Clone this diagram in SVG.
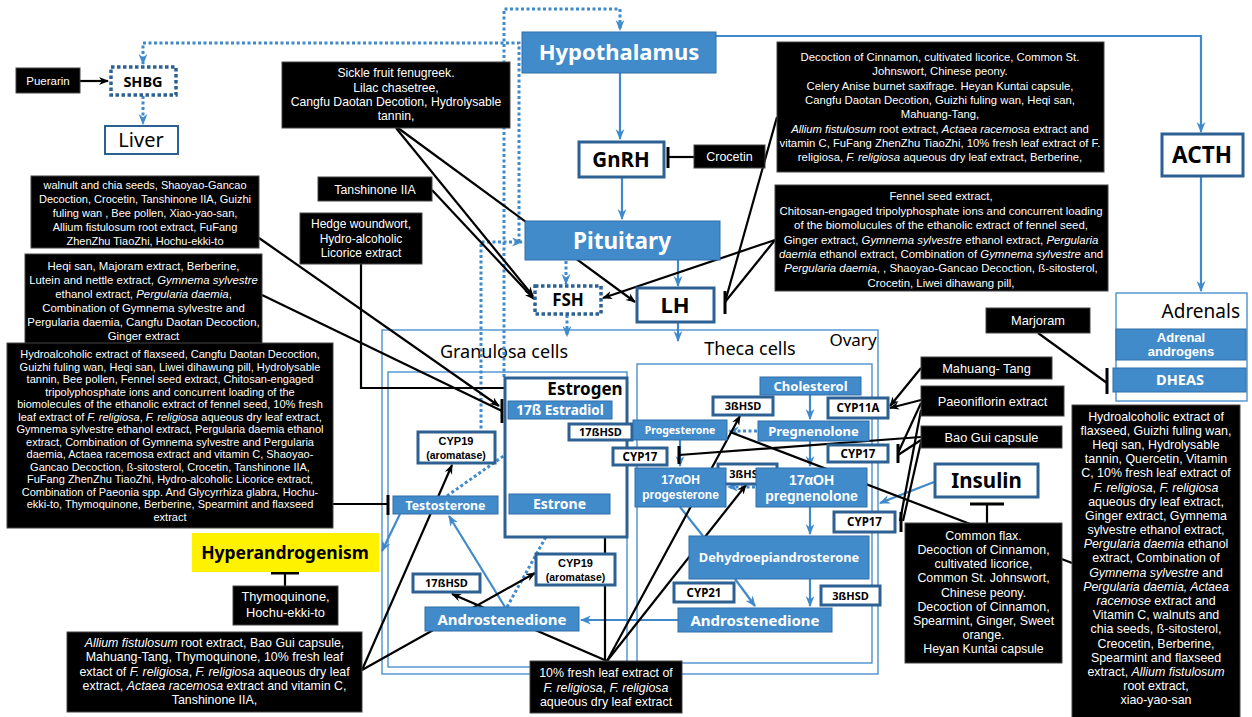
<svg xmlns="http://www.w3.org/2000/svg" width="1252" height="717" viewBox="0 0 1252 717">
<style>
text{font-family:"Noto Sans","Open Sans","Liberation Sans",sans-serif}
.bb{fill:#000;stroke:#444;stroke-width:1}
.bt{fill:#fff;text-anchor:middle;font-family:"Liberation Sans",Arial,sans-serif}
.i{font-style:italic}
.bn{fill:#428BCA;stroke:#2F6EA8;stroke-width:1}
.wt{fill:#fff;font-weight:bold;text-anchor:middle}
.wl{fill:#fff;font-weight:bold;text-anchor:middle;font-family:"Liberation Sans",Arial,sans-serif}
.ob{fill:#fff;stroke:#2E6193;stroke-width:3}
.obd{fill:#fff;stroke:#2E6193;stroke-width:3.5;stroke-dasharray:3.5 2.5}
.kt{fill:#000;font-weight:bold;text-anchor:middle}
.kl{fill:#000;font-weight:bold;text-anchor:middle;font-family:"Liberation Sans",Arial,sans-serif}
.thin{fill:none;stroke:#3F88CB;stroke-width:1.3}
.bl{stroke:#000;stroke-width:2.2;fill:none}
.bar{stroke:#000;stroke-width:3;fill:none}
.blu{stroke:#3F8ACB;stroke-width:2.2;fill:none}
.dot{stroke:#3F8ACB;stroke-width:3;fill:none;stroke-dasharray:3 2.5}
</style>
<defs>
<marker id="ak" viewBox="0 0 10 10" refX="9" refY="5" markerWidth="10" markerHeight="10" markerUnits="userSpaceOnUse" orient="auto-start-reverse"><path d="M0,1 L10,5 L0,9 L3,5 z" fill="#000"/></marker>
<marker id="ab" viewBox="0 0 10 10" refX="9" refY="5" markerWidth="11" markerHeight="11" markerUnits="userSpaceOnUse" orient="auto-start-reverse"><path d="M0,1 L10,5 L0,9 L3,5 z" fill="#3F8ACB"/></marker>
</defs>
<rect width="1252" height="717" fill="#fff"/>

<!-- containers -->
<g id="ovary"><rect class="thin" x="382" y="330" width="496" height="344"/><text x="853" y="346" font-size="17" text-anchor="middle">Ovary</text></g>
<g id="granulosa"><rect class="thin" x="388" y="372" width="239" height="295"/><text x="504" y="358" font-size="18" text-anchor="middle">Granulosa cells</text></g>
<g id="theca"><rect class="thin" x="637" y="364" width="235" height="299"/><text x="750" y="355" font-size="18" text-anchor="middle">Theca cells</text></g>
<g id="adrenals"><rect class="thin" x="1116" y="293" width="131" height="108"/><text x="1240" y="318" font-size="19" text-anchor="end">Adrenals</text></g>

<!-- connectors -->
<g id="connectors">
<path class="blu" d="M620,73V139" marker-end="url(#ab)"/>
<path class="blu" d="M622,177V219" marker-end="url(#ab)"/>
<path class="blu" d="M678,260V286" marker-end="url(#ab)"/>
<path class="blu" d="M678,322V341" marker-end="url(#ab)"/>
<path class="blu" d="M716,36H1201V132" marker-end="url(#ab)"/>
<path class="blu" d="M1201,176V291" marker-end="url(#ab)"/>
<path class="blu" d="M810,395V419" marker-end="url(#ab)"/>
<path class="blu" d="M810,441V466" marker-end="url(#ab)"/>
<path class="blu" d="M810,507V534" marker-end="url(#ab)"/>
<path class="blu" d="M810,579V606" marker-end="url(#ab)"/>
<path class="blu" d="M735,579L755,606" marker-end="url(#ab)"/>
<path class="blu" d="M680,507L703,536"/>
<path class="blu" d="M680,440V466" marker-end="url(#ab)"/>
<path class="blu" d="M678,620H581" marker-end="url(#ab)"/>
<path class="blu" d="M505,607L449,516" marker-end="url(#ab)"/>
<path class="blu" d="M558,420V493" marker-start="url(#ab)" marker-end="url(#ab)"/>
<path class="blu" d="M400,514L382,551" marker-end="url(#ab)"/>
<path class="blu" d="M934,482L880,503" marker-end="url(#ab)"/>

<path class="dot" d="M757,431H729" marker-end="url(#ab)"/>
<path class="dot" d="M755,487H728" marker-end="url(#ab)"/>
<path class="dot" d="M447,496L553,421" marker-end="url(#ab)"/>
<path class="dot" d="M507,607L557,517" marker-end="url(#ab)"/>
<path class="dot" d="M566,261V284" marker-end="url(#ab)"/>
<path class="dot" d="M567,315V336" marker-end="url(#ab)"/>
<path class="dot" d="M143,96V124" marker-end="url(#ab)"/>
<path class="dot" d="M481,456V242H522" marker-end="url(#ab)"/>
<path class="dot" d="M504,377V9H620V30" marker-end="url(#ab)"/>
<path class="dot" d="M519,242V43H143V64" marker-end="url(#ab)"/>

<path class="bl" d="M80,81H108" marker-end="url(#ak)"/>
<path class="bl" d="M694,157H668"/><path class="bar" d="M668,147V168"/>
<path class="bl" d="M396,128L533,296" marker-end="url(#ak)"/>
<path class="bl" d="M398,128L635,302" marker-end="url(#ak)"/>
<path class="bl" d="M432,190L534,299" marker-end="url(#ak)"/>
<path class="bl" d="M775,240L603,298" marker-end="url(#ak)"/>
<path class="bl" d="M775,240L725,302"/>
<path class="bl" d="M777,117L725,302"/><path class="bar" d="M725,291V314"/>
<path class="bl" d="M259,238L499,406" marker-end="url(#ak)"/>
<path class="bl" d="M262,295L502,411"/><path class="bar" d="M502,399V423"/>
<path class="bl" d="M361,264V388H537"/><path class="bar" d="M537,380V398"/>
<path class="bl" d="M333,504H388"/><path class="bar" d="M388,495V515"/>
<path class="bl" d="M285,586V573"/><path class="bar" d="M271,573H299"/>
<path class="bl" d="M362,670L452,465" marker-end="url(#ak)"/>
<path class="bl" d="M362,670L535,573" marker-end="url(#ak)"/>
<path class="bl" d="M605,661V441" marker-end="url(#ak)"/>
<path class="bl" d="M607,661L452,594" marker-end="url(#ak)"/>
<path class="bl" d="M607,661L740,416" marker-end="url(#ak)"/>
<path class="bl" d="M607,661L746,485" marker-end="url(#ak)"/>
<path class="bl" d="M921,368L890,406" marker-end="url(#ak)"/>
<path class="bl" d="M921,400L890,408" marker-end="url(#ak)"/>
<path class="bl" d="M921,403L898,453"/><path class="bl" d="M921,440L898,455"/><path class="bar" d="M898,444V463"/>
<path class="bl" d="M921,437L679,455"/><path class="bar" d="M679,446V464"/>
<path class="bl" d="M921,410L900,521"/><path class="bl" d="M921,442L903,521"/><path class="bar" d="M901,512V532"/>
<path class="bl" d="M1072,563L730,432"/>
<path class="bl" d="M987,523V504"/><path class="bar" d="M970,504H1004"/>
<path class="bl" d="M1038,333L1107,383"/><path class="bar" d="M1107,368V394"/>
</g>

<!-- hormone nodes -->
<g id="hypothalamus"><rect class="bn" x="522" y="32" width="194" height="41"/><text class="wt" x="619" y="60" font-size="22">Hypothalamus</text></g>
<g id="gnrh"><rect class="ob" x="579" y="142" width="85" height="35"/><text class="kt" x="621" y="167" font-size="20.5">GnRH</text></g>
<g id="pituitary"><rect class="bn" x="525" y="221" width="195" height="39"/><text class="wt" x="622" y="248.5" font-size="22.5">Pituitary</text></g>
<g id="fsh"><rect class="obd" x="535" y="286" width="66" height="28"/><text class="kt" x="568" y="306" font-size="17">FSH</text></g>
<g id="lh"><rect class="ob" x="637" y="288" width="77" height="34"/><text class="kt" x="675" y="313" font-size="22">LH</text></g>
<g id="acth"><rect class="ob" x="1162" y="134" width="81" height="42"/><text class="kt" x="1202" y="163" font-size="22.5">ACTH</text></g>
<g id="shbg"><rect class="obd" x="111" y="67" width="65" height="28"/><text class="kt" x="143" y="86.5" font-size="14.5">SHBG</text></g>
<g id="liver"><rect fill="#fff" stroke="#2E6193" stroke-width="2" x="105" y="126" width="73" height="28"/><text x="141" y="147" font-size="20" text-anchor="middle">Liver</text></g>
<g id="adrenal-androgens"><rect class="bn" x="1116" y="329" width="130" height="31"/><text class="wl" font-size="13"><tspan x="1181" y="341.5">Adrenal</tspan><tspan x="1181" y="355.5">androgens</tspan></text></g>
<g id="dheas"><rect class="bn" x="1113" y="368" width="133" height="24"/><text class="wt" x="1180" y="385" font-size="14.5">DHEAS</text></g>

<g id="estrogen"><rect class="ob" fill="none" x="505" y="378" width="122" height="159"/><text class="kt" x="585" y="395" font-size="17">Estrogen</text></g>
<g id="estradiol"><rect class="bn" x="508" y="401" width="104" height="18"/><text class="wt" x="560" y="415" font-size="13.5">17ß Estradiol</text></g>
<g id="estrone"><rect class="bn" x="509" y="494" width="101" height="20"/><text class="wt" x="559.5" y="509" font-size="14">Estrone</text></g>
<g id="hsd17-up"><rect class="ob" x="569" y="424" width="63" height="16"/><text class="kt" x="600.5" y="436" font-size="11">17ßHSD</text></g>
<g id="cyp19-up"><rect class="ob" x="418" y="432" width="77" height="31"/><text class="kl" font-size="11"><tspan x="456" y="445">CYP19</tspan><tspan x="456" y="458.5" font-size="10.5">(aromatase)</tspan></text></g>
<g id="testosterone"><rect class="bn" x="393" y="496" width="105" height="18"/><text class="wt" x="445.5" y="509.5" font-size="12.3">Testosterone</text></g>
<g id="hsd17-low"><rect class="ob" x="413" y="574" width="67" height="18"/><text class="kt" x="446.5" y="587" font-size="11">17ßHSD</text></g>
<g id="cyp19-low"><rect class="ob" x="536" y="554" width="79" height="31"/><text class="kl" font-size="11"><tspan x="575.5" y="567">CYP19</tspan><tspan x="575.5" y="580.5" font-size="10.5">(aromatase)</tspan></text></g>
<g id="andro-gran"><rect class="bn" x="425" y="607" width="154" height="24"/><text class="wt" x="502" y="624.5" font-size="15">Androstenedione</text></g>

<g id="cholesterol"><rect class="bn" x="760" y="377" width="101" height="18"/><text class="wt" x="810.5" y="390.5" font-size="13">Cholesterol</text></g>
<g id="hsd3-up"><rect class="ob" x="713" y="397" width="60" height="18"/><text class="kt" x="743" y="410" font-size="11">3ßHSD</text></g>
<g id="cyp11a"><rect class="ob" x="828" y="398" width="60" height="20"/><text class="kt" x="858" y="412" font-size="11.5">CYP11A</text></g>
<g id="progesterone"><rect class="bn" x="633" y="420" width="94" height="20"/><text class="wt" x="680" y="433.5" font-size="10.5">Progesterone</text></g>
<g id="pregnenolone"><rect class="bn" x="758" y="421" width="111" height="20"/><text class="wt" x="813.5" y="435.5" font-size="13">Pregnenolone</text></g>
<g id="cyp17-left"><rect class="ob" x="613" y="448" width="54" height="17"/><text class="kt" x="640" y="460.5" font-size="11.5">CYP17</text></g>
<g id="cyp17-right"><rect class="ob" x="828" y="445" width="60" height="17"/><text class="kt" x="858" y="457.5" font-size="11.5">CYP17</text></g>
<g id="hsd3-mid"><rect class="ob" x="718" y="464" width="59" height="20"/><text class="kt" x="747.5" y="478" font-size="11">3ßHSD</text></g>
<g id="ohprog"><rect class="bn" x="635" y="468" width="91" height="39"/><text class="wl" font-size="12"><tspan x="680.5" y="484">17αOH</tspan><tspan x="680.5" y="499">progesterone</tspan></text></g>
<g id="ohpreg"><rect class="bn" x="756" y="468" width="111" height="39"/><text class="wl" font-size="14"><tspan x="811.5" y="485">17αOH</tspan><tspan x="811.5" y="501">pregnenolone</tspan></text></g>
<g id="cyp17-low"><rect class="ob" x="834" y="512" width="61" height="20"/><text class="kt" x="864.5" y="526" font-size="11.5">CYP17</text></g>
<g id="dhea"><rect class="bn" x="689" y="536" width="180" height="43"/><text class="wt" x="779" y="562" font-size="12.8">Dehydroepiandrosterone</text></g>
<g id="cyp21"><rect class="ob" x="674" y="583" width="60" height="19"/><text class="kt" x="704" y="596.5" font-size="11.5">CYP21</text></g>
<g id="hsd3-low"><rect class="ob" x="821" y="586" width="59" height="19"/><text class="kt" x="850.5" y="599.5" font-size="11">3ßHSD</text></g>
<g id="andro-theca"><rect class="bn" x="678" y="608" width="154" height="24"/><text class="wt" x="755" y="625.5" font-size="15">Androstenedione</text></g>

<g id="hyperandrogenism"><rect fill="#FFF200" x="192" y="533" width="187" height="39"/><text class="kt" x="285" y="558.5" font-size="17.5">Hyperandrogenism</text></g>
<g id="insulin"><rect class="ob" x="935" y="464" width="103" height="33"/><text class="kt" x="986.5" y="487.5" font-size="20.5">Insulin</text></g>

<!-- black agent boxes -->
<g id="puerarin"><rect class="bb" x="16" y="68" width="64" height="25"/><text class="bt" x="48" y="84.5" font-size="11.5">Puerarin</text></g>
<g id="fenugreek"><rect class="bb" x="282" y="62" width="228" height="66"/><text class="bt" font-size="12.2"><tspan x="396" y="77">Sickle fruit fenugreek.</tspan><tspan x="396" y="92">Lilac chasetree,</tspan><tspan x="396" y="106">Cangfu Daotan Decotion, Hydrolysable</tspan><tspan x="396" y="120">tannin,</tspan></text></g>
<g id="crocetin"><rect class="bb" x="694" y="145" width="71" height="23"/><text class="bt" x="729.5" y="161" font-size="12.5">Crocetin</text></g>
<g id="decoction"><rect class="bb" x="777" y="42" width="327" height="130"/><text class="bt" font-size="11.3"><tspan x="940" y="61">Decoction of Cinnamon, cultivated licorice, Common St.</tspan><tspan x="940" y="75">Johnswort, Chinese peony.</tspan><tspan x="940" y="90">Celery Anise burnet saxifrage. Heyan Kuntai capsule,</tspan><tspan x="940" y="104">Cangfu Daotan Decotion, Guizhi fuling wan, Heqi san,</tspan><tspan x="940" y="118">Mahuang-Tang,</tspan><tspan x="940" y="133"><tspan class="i">Allium fistulosum</tspan> root extract, <tspan class="i">Actaea racemosa</tspan> extract and</tspan><tspan x="940" y="147">vitamin C, FuFang ZhenZhu TiaoZhi, 10% fresh leaf extract of F.</tspan><tspan x="940" y="161">religiosa, <tspan class="i">F. religiosa</tspan> aqueous dry leaf extract, Berberine,</tspan></text></g>
<g id="fennel"><rect class="bb" x="775" y="185" width="333" height="106"/><text class="bt" font-size="11.4"><tspan x="941" y="200">Fennel seed extract,</tspan><tspan x="941" y="215">Chitosan-engaged tripolyphosphate ions and concurrent loading</tspan><tspan x="941" y="229">of the biomolucules of the ethanolic extract of fennel seed,</tspan><tspan x="941" y="244">Ginger extract, <tspan class="i">Gymnema sylvestre</tspan> ethanol extract, <tspan class="i">Pergularia</tspan></tspan><tspan x="941" y="258"><tspan class="i">daemia</tspan> ethanol extract, Combination of <tspan class="i">Gymnema sylvestre</tspan> and</tspan><tspan x="941" y="272"><tspan class="i">Pergularia daemia</tspan>, , Shaoyao-Gancao Decoction, ß-sitosterol,</tspan><tspan x="941" y="287">Crocetin, Liwei dihawang pill,</tspan></text></g>
<g id="walnut"><rect class="bb" x="31" y="176" width="228" height="72"/><text class="bt" font-size="11"><tspan x="145" y="189">walnult and chia seeds, Shaoyao-Gancao</tspan><tspan x="145" y="203">Decoction, Crocetin, Tanshinone IIA, Guizhi</tspan><tspan x="145" y="216.5">fuling wan , Bee pollen,  Xiao-yao-san,</tspan><tspan x="145" y="230.5">Allium fistulosum root extract, FuFang</tspan><tspan x="145" y="244.5">ZhenZhu TiaoZhi, Hochu-ekki-to</tspan></text></g>
<g id="tanshinone"><rect class="bb" x="318" y="177" width="114" height="24"/><text class="bt" x="375" y="193.5" font-size="12.3">Tanshinone IIA</text></g>
<g id="hedge"><rect class="bb" x="300" y="213" width="122" height="51"/><text class="bt" font-size="12"><tspan x="361" y="228">Hedge woundwort,</tspan><tspan x="361" y="243">Hydro-alcoholic</tspan><tspan x="361" y="257">Licorice extract</tspan></text></g>
<g id="heqi"><rect class="bb" x="25" y="254" width="237" height="91"/><text class="bt" font-size="11.4"><tspan x="143.5" y="270">Heqi san, Majoram extract, Berberine,</tspan><tspan x="143.5" y="284">Lutein and nettle extract, <tspan class="i">Gymnema sylvestre</tspan></tspan><tspan x="143.5" y="298">ethanol extract, <tspan class="i">Pergularia daemia</tspan>,</tspan><tspan x="143.5" y="312">Combination of Gymnema sylvestre and</tspan><tspan x="143.5" y="326">Pergularia daemia, Cangfu Daotan Decoction,</tspan><tspan x="143.5" y="340">Ginger extract</tspan></text></g>
<g id="flaxseed"><rect class="bb" x="7" y="343" width="326" height="185"/><text class="bt" font-size="11"><tspan x="170" y="358">Hydroalcoholic extract of flaxseed, Cangfu Daotan Decoction,</tspan><tspan x="170" y="370.5">Guizhi fuling wan, Heqi san, Liwei dihawung pill, Hydrolysable</tspan><tspan x="170" y="383">tannin, Bee pollen, Fennel seed extract, Chitosan-engaged</tspan><tspan x="170" y="395.5">tripolyphosphate ions and concurrent loading of the</tspan><tspan x="170" y="408">biomolecules of the ethanolic extract of fennel seed, 10% fresh</tspan><tspan x="170" y="420.5">leaf extract of <tspan class="i">F. religiosa</tspan>, <tspan class="i">F. religiosa</tspan> aqueous dry leaf extract,</tspan><tspan x="170" y="433">Gymnema sylvestre ethanol extract, Pergularia daemia ethanol</tspan><tspan x="170" y="445.5">extract, Combination of Gymnema sylvestre and Pergularia</tspan><tspan x="170" y="458">daemia, Actaea racemosa extract and vitamin C, Shaoyao-</tspan><tspan x="170" y="470.5">Gancao Decoction, ß-sitosterol, Crocetin, Tanshinone IIA,</tspan><tspan x="170" y="483">FuFang ZhenZhu TiaoZhi, Hydro-alcoholic Licorice extract,</tspan><tspan x="170" y="495.5">Combination of Paeonia spp. And Glycyrrhiza glabra, Hochu-</tspan><tspan x="170" y="508">ekki-to, Thymoquinone, Berberine, Spearmint and flaxseed</tspan><tspan x="170" y="520.5">extract</tspan></text></g>
<g id="thymoquinone"><rect class="bb" x="233" y="586" width="105" height="39"/><text class="bt" font-size="12.8"><tspan x="285.5" y="601">Thymoquinone,</tspan><tspan x="285.5" y="617">Hochu-ekki-to</tspan></text></g>
<g id="allium"><rect class="bb" x="67" y="632" width="295" height="80"/><text class="bt" font-size="12.4"><tspan x="214.5" y="647"><tspan class="i">Allium fistulosum</tspan> root extract, Bao Gui capsule,</tspan><tspan x="214.5" y="661">Mahuang-Tang, Thymoquinone, 10% fresh leaf</tspan><tspan x="214.5" y="675.5">extact of <tspan class="i">F. religiosa</tspan>, <tspan class="i">F. religiosa</tspan> aqueous dry leaf</tspan><tspan x="214.5" y="690">extract, <tspan class="i">Actaea racemosa</tspan> extract and vitamin C,</tspan><tspan x="214.5" y="704">Tanshinone IIA,</tspan></text></g>
<g id="freshleaf"><rect class="bb" x="530" y="661" width="152" height="52"/><text class="bt" font-size="12.4"><tspan x="606" y="677">10% fresh leaf extract of</tspan><tspan x="606" y="692"><tspan class="i">F. religiosa</tspan>, <tspan class="i">F. religiosa</tspan></tspan><tspan x="606" y="706">aqueous dry leaf extract</tspan></text></g>
<g id="marjoram"><rect class="bb" x="986" y="308" width="104" height="25"/><text class="bt" x="1038" y="325" font-size="12.8">Marjoram</text></g>
<g id="mahuang"><rect class="bb" x="921" y="357" width="131" height="22"/><text class="bt" x="986.5" y="372.5" font-size="12.8">Mahuang- Tang</text></g>
<g id="paeoniflorin"><rect class="bb" x="921" y="386" width="143" height="30"/><text class="bt" x="992.5" y="405.5" font-size="12.8">Paeoniflorin extract</text></g>
<g id="baogui"><rect class="bb" x="921" y="426" width="141" height="22"/><text class="bt" x="991.5" y="441.5" font-size="12.8">Bao Gui capsule</text></g>
<g id="commonflax"><rect class="bb" x="905" y="523" width="157" height="140"/><text class="bt" font-size="12.4"><tspan x="983.5" y="540">Common flax.</tspan><tspan x="983.5" y="554">Decoction of Cinnamon,</tspan><tspan x="983.5" y="568">cultivated licorice,</tspan><tspan x="983.5" y="582">Common St. Johnswort,</tspan><tspan x="983.5" y="597">Chinese peony.</tspan><tspan x="983.5" y="611">Decoction of Cinnamon,</tspan><tspan x="983.5" y="625">Spearmint, Ginger, Sweet</tspan><tspan x="983.5" y="639">orange.</tspan><tspan x="983.5" y="653">Heyan Kuntai capsule</tspan></text></g>
<g id="rightbox"><rect class="bb" x="1072" y="405" width="168" height="315"/><text class="bt" font-size="12.4"><tspan x="1156" y="421">Hydroalcoholic extract of</tspan><tspan x="1156" y="435">flaxseed, Guizhi fuling wan,</tspan><tspan x="1156" y="449">Heqi san, Hydrolysable</tspan><tspan x="1156" y="463">tannin, Quercetin, Vitamin</tspan><tspan x="1156" y="477">C, 10% fresh leaf extract of</tspan><tspan x="1156" y="492"><tspan class="i">F. religiosa</tspan>, <tspan class="i">F. religiosa</tspan></tspan><tspan x="1156" y="506">aqueous dry leaf extract,</tspan><tspan x="1156" y="520">Ginger extract, Gymnema</tspan><tspan x="1156" y="534">sylvestre ethanol extract,</tspan><tspan x="1156" y="548"><tspan class="i">Pergularia daemia</tspan> ethanol</tspan><tspan x="1156" y="562">extract, Combination of</tspan><tspan x="1156" y="577"><tspan class="i">Gymnema sylvestre</tspan> and</tspan><tspan x="1156" y="591"><tspan class="i">Pergularia daemia, Actaea</tspan></tspan><tspan x="1156" y="605"><tspan class="i">racemose</tspan> extract and</tspan><tspan x="1156" y="619">Vitamin C, walnuts and</tspan><tspan x="1156" y="633">chia seeds, ß-sitosterol,</tspan><tspan x="1156" y="648">Creocetin, Berberine,</tspan><tspan x="1156" y="662">Spearmint and flaxseed</tspan><tspan x="1156" y="676">extract, <tspan class="i">Allium fistulosum</tspan></tspan><tspan x="1156" y="690">root extract,</tspan><tspan x="1156" y="704">xiao-yao-san</tspan></text></g>
</svg>
